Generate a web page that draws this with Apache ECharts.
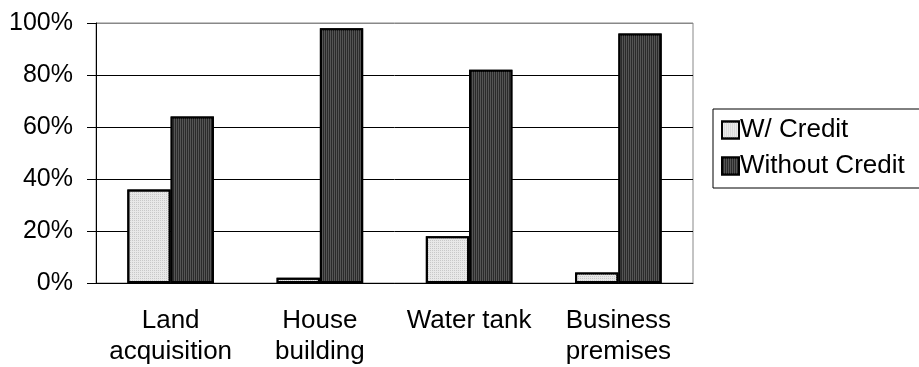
<!DOCTYPE html>
<html>
<head>
<meta charset="utf-8">
<script src="https://cdn.jsdelivr.net/npm/echarts@6/dist/echarts.min.js"></script>
<style>
  html, body { margin: 0; padding: 0; background: #fff; }
  #chart { width: 919px; height: 367px; }
</style>
</head>
<body>
<div id="chart"></div>
<script>
const categories = ['Land\nacquisition', 'House\nbuilding', 'Water tank', 'Business\npremises']
const withCredit = [36, 2, 18, 4]
const withoutCredit = [64, 98, 82, 96]
const seriesNames = ['W/ Credit', 'Without Credit']

const font = 'Liberation Sans, Arial, sans-serif'

const chart = echarts.init(document.getElementById('chart'))

chart.setOption({
  animation: false,
  backgroundColor: '#fff',
  grid: {
    left: 96,
    right: 226,
    top: 23,
    bottom: 83,
    show: true,
    borderColor: '#888',
    borderWidth: 1
  },
  legend: {
    orient: 'vertical',
    left: 713,
    top: 109,
    padding: [8, 40, 9, 8],
    itemGap: 10,
    itemWidth: 17,
    itemHeight: 17,
    borderColor: '#000',
    borderWidth: 1,
    icon: 'rect',
    textStyle: { fontFamily: font, fontSize: 26, lineHeight: 26, color: '#000', padding: [0, 0, 0, -4] },
    data: seriesNames
  },
  xAxis: {
    type: 'category',
    data: categories,
    axisLine: { lineStyle: { color: '#000', width: 1 } },
    axisTick: { length: 9, lineStyle: { color: '#000' } },
    axisLabel: {
      fontFamily: font,
      fontSize: 26,
      color: '#000',
      lineHeight: 31,
      margin: 22,
      interval: 0
    }
  },
  yAxis: {
    type: 'value',
    min: 0,
    max: 100,
    interval: 20,
    axisLine: { show: true, lineStyle: { color: '#000', width: 1 } },
    axisTick: { show: true, length: 9, lineStyle: { color: '#000' } },
    axisLabel: {
      fontFamily: font,
      fontSize: 25,
      color: '#000',
      margin: 23,
      formatter: '{value}%'
    },
    splitLine: {
      lineStyle: { color: ['#000', '#000', '#000', '#000', '#000', '#888'], width: 1 }
    }
  },
  series: [
    {
      name: seriesNames[0],
      type: 'bar',
      data: withCredit,
      barGap: '0%',
      barCategoryGap: '42%',
      itemStyle: {
        color: '#e8e8e8',
        borderColor: '#000',
        borderWidth: 2,
        decal: {
          symbol: 'rect',
          color: '#c8c8c8',
          dashArrayX: [1, 1],
          dashArrayY: [1, 1],
          symbolSize: 1,
          rotation: 0
        }
      }
    },
    {
      name: seriesNames[1],
      type: 'bar',
      data: withoutCredit,
      itemStyle: {
        color: '#2a2a2a',
        borderColor: '#000',
        borderWidth: 2,
        decal: {
          symbol: 'rect',
          color: '#555',
          dashArrayX: [1, 1],
          dashArrayY: [4, 0],
          symbolSize: 1,
          rotation: 0
        }
      }
    }
  ]
})
</script>
</body>
</html>
